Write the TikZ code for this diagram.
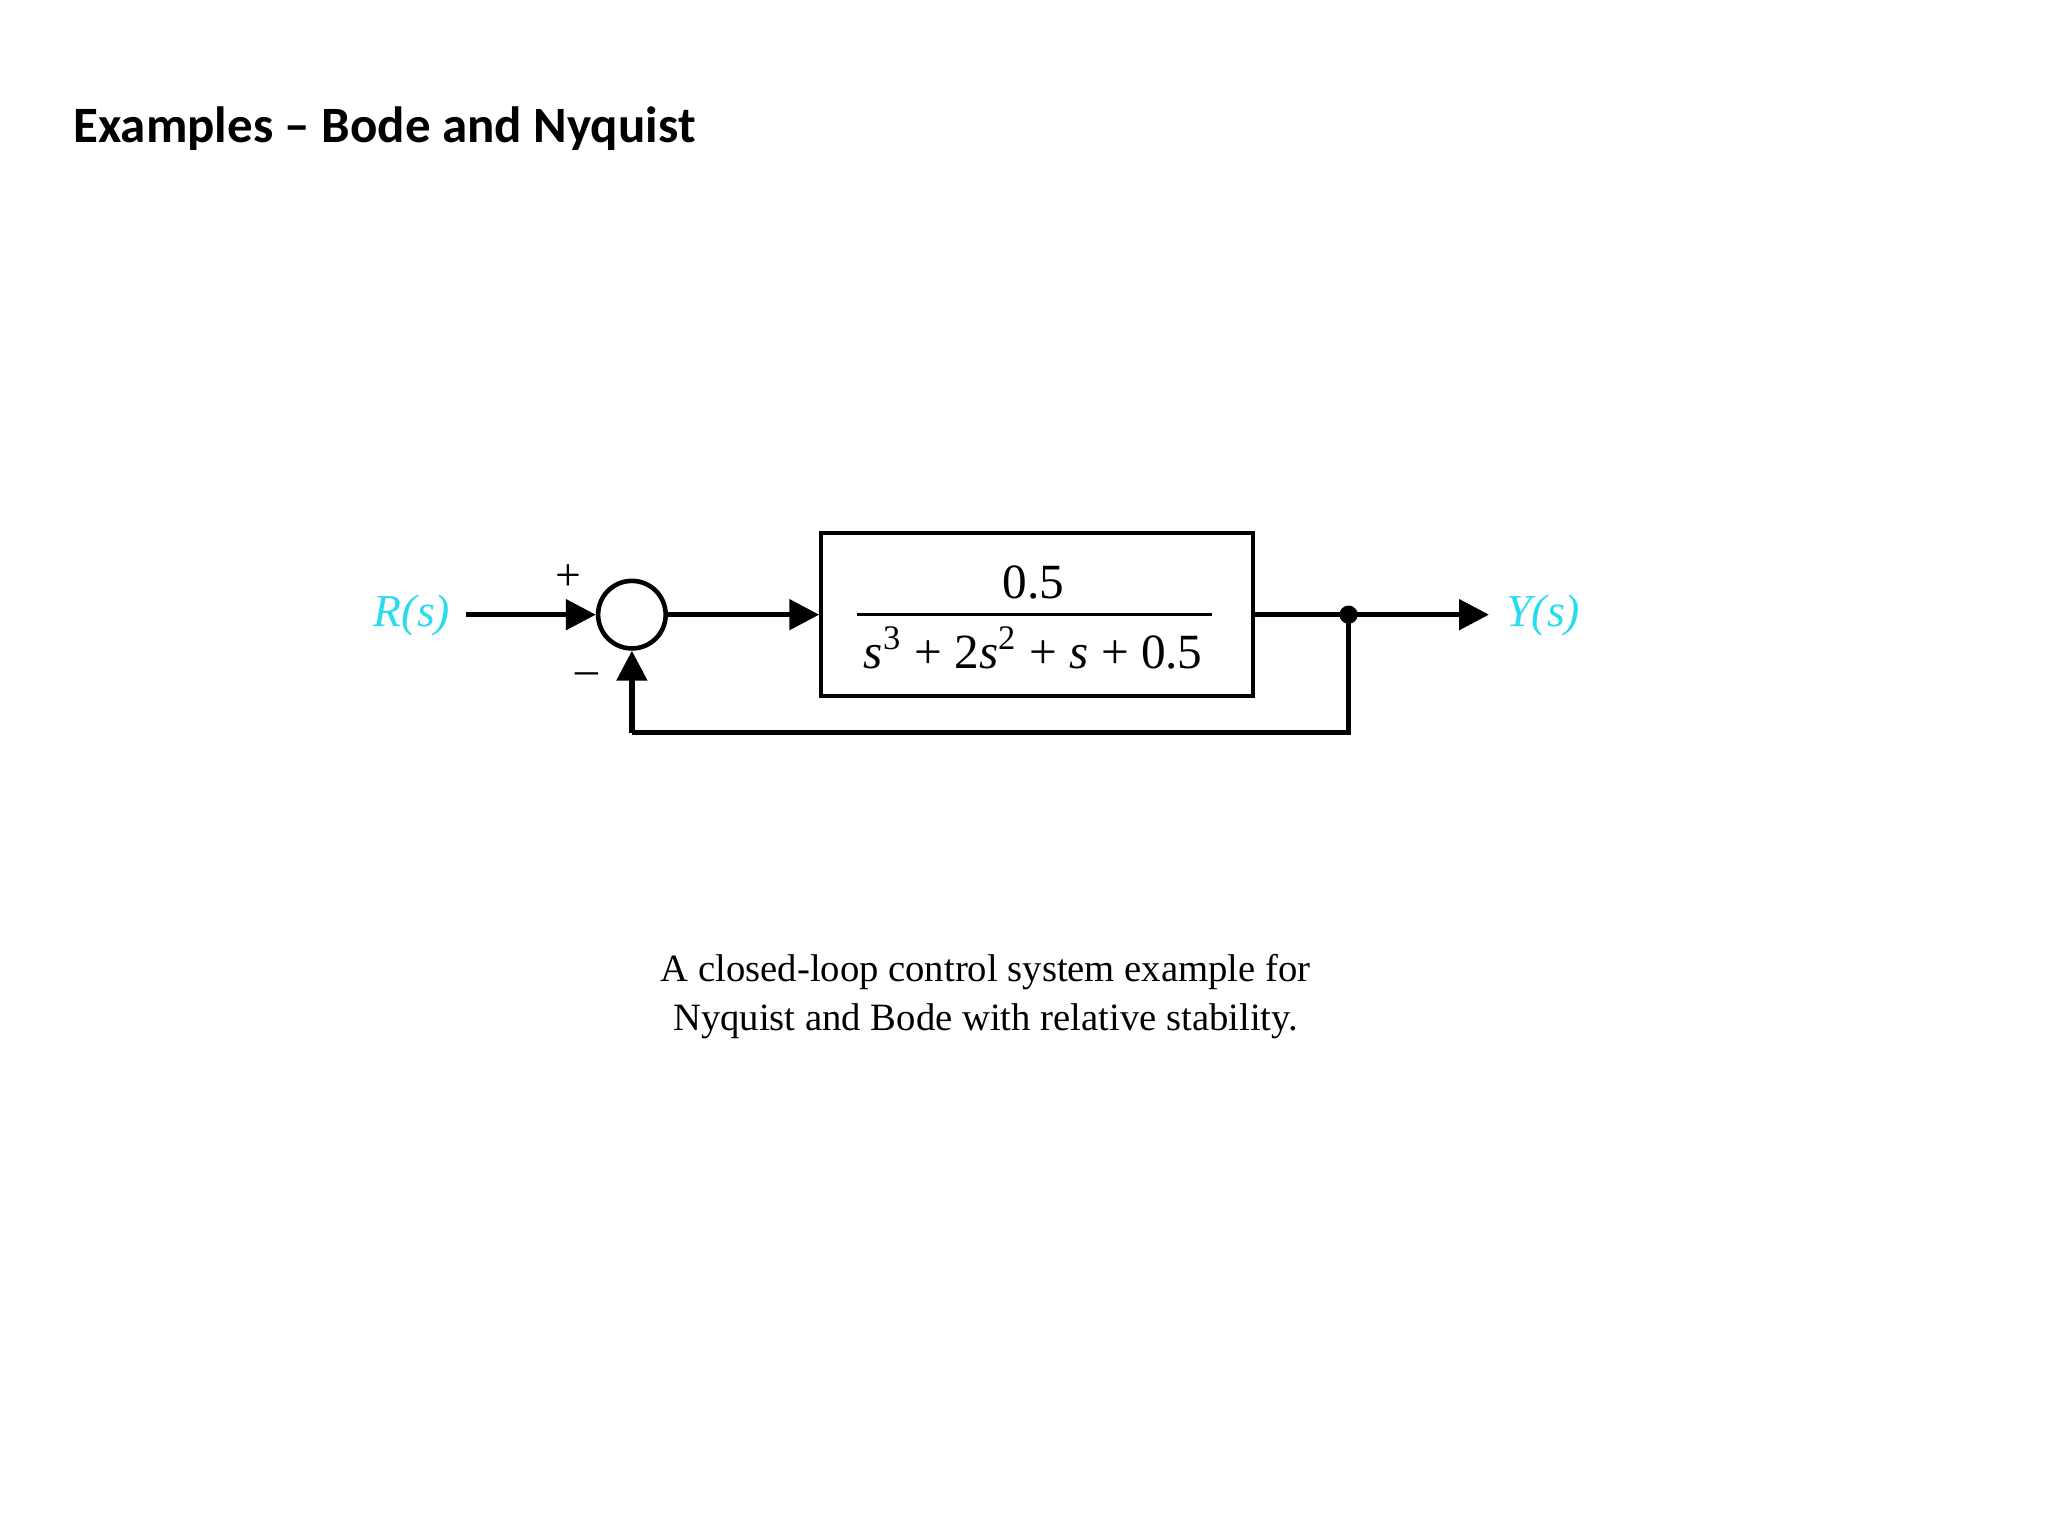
\documentclass[tikz,border=0pt]{standalone}
\usepackage{fontspec}
\setmainfont{Liberation Serif}
\newfontfamily\titlefont{Carlito}
\usetikzlibrary{arrows.meta}
\definecolor{sigcyan}{RGB}{40,220,240}
\begin{document}
\begin{tikzpicture}[x=0.01325cm,y=-0.01325cm,
  sig/.style={line width=1.5pt,-{Triangle[length=8.5pt,width=8.5pt]}},
  wire/.style={line width=1.5pt},
  lbl/.style={text=sigcyan,font=\fontsize{13}{15}\selectfont\itshape}]
\useasboundingbox (0,0) rectangle (1546,1160);
\node[anchor=west,font=\titlefont\bfseries\fontsize{14.5}{17}\selectfont] (title) at (46,97) {Examples – Bode and Nyquist};
\node[draw,circle,line width=1.3pt,minimum size=51*0.01325cm,inner sep=0pt] (sum) at (477,464) {};
\node[draw,line width=1.2pt,minimum width=326*0.01325cm,minimum height=123*0.01325cm,inner sep=0pt] (G) at (783,464) {};
\node[font=\fontsize{14}{16}\selectfont] (num) at (780,440) {0.5};
\node[font=\fontsize{14}{16}\selectfont] (den) at (780,489) {\textit{s}\textsuperscript{3} + 2\textit{s}\textsuperscript{2} + \textit{s} + 0.5};
\draw[line width=0.7pt] (647,464) -- (915,464);
\node[lbl] (R) at (311,465) {R(s)};
\node[lbl] (Y) at (1165,465) {Y(s)};
\node[font=\fontsize{13}{15}\selectfont] (plus) at (429,436) {+};
\node[font=\fontsize{13}{15}\selectfont] (minus) at (443,512) {–};
\coordinate (rs) at (352,464);
\coordinate (ye) at (1124,464);
\coordinate (tap) at (1018,464);
\coordinate (fb1) at (1018,553);
\coordinate (fb2) at (477,553);
\draw[sig] (rs) -- (sum.west);
\draw[sig] (sum.east) -- (G.west);
\draw[sig] (G.east) -- (ye);
\draw[wire] (tap) -- (fb1) -- (fb2);
\draw[sig] (fb2) -- (sum.south);
\fill (tap) circle (2.6pt);
\node[align=center,font=\fontsize{11}{14}\selectfont] (cap) at (744,752) {A closed-loop control system example for\\Nyquist and Bode with relative stability.};
\end{tikzpicture}
\end{document}
